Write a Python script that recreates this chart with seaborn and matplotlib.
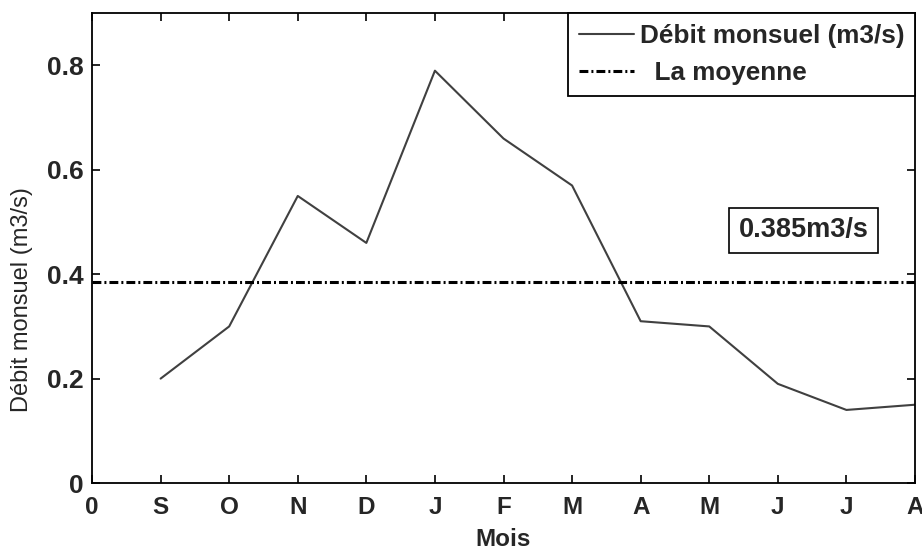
import matplotlib
matplotlib.use("Agg")
import matplotlib.pyplot as plt
import seaborn as sns
import pandas as pd

# Monthly discharge, hydrological year September -> August
mois = ["S", "O", "N", "D", "J", "F", "M", "A", "M", "J", "J", "A"]
debit = [0.20, 0.30, 0.55, 0.46, 0.79, 0.66, 0.57, 0.31, 0.30, 0.19, 0.14, 0.15]
moyenne = 0.385
tick_labels = ["0"] + mois
y_ticks = [0, 0.2, 0.4, 0.6, 0.8]

sns.set_style("ticks")
plt.rcParams["font.family"] = ["Liberation Sans", "DejaVu Sans"]

df = pd.DataFrame({"rang": range(1, len(debit) + 1), "debit": debit})

fig = plt.figure(figsize=(9.22, 5.51), dpi=100)
ax = fig.add_axes([0.0998, 0.1234, 0.8926, 0.8525])

sns.lineplot(data=df, x="rang", y="debit", ax=ax, color="#404040",
             linewidth=1.5, label="Débit monsuel (m3/s)")
ax.axhline(moyenne, color="black", linewidth=2.2,
           linestyle=(0, (2.9, 1.0, 0.65, 1.0)), label="  La moyenne")

ax.set_xlim(0, 12)
ax.set_ylim(0, 0.9)
ax.set_xticks(range(len(tick_labels)))
ax.set_xticklabels(tick_labels, fontsize=17.5, fontweight="bold")
ax.set_yticks(y_ticks)
ax.set_yticklabels([f"{v:g}" for v in y_ticks], fontsize=19, fontweight="bold")
ax.tick_params(direction="in", length=6, width=1.2, top=True, right=True,
               color="black", pad=6)
ax.tick_params(axis="x", pad=9)
for s in ax.spines.values():
    s.set_linewidth(1.3)
    s.set_color("black")

ax.set_xlabel("Mois", fontsize=17.5, fontweight="bold")
ax.xaxis.set_label_coords(0.5, -0.095)
ax.set_ylabel("Débit monsuel (m3/s)", fontsize=17)
ax.yaxis.set_label_coords(-0.072, 0.39)

ax.text(10.38, 0.484, f"{moyenne}m3/s", fontsize=19.5, fontweight="bold",
        ha="center", va="center",
        bbox=dict(boxstyle="square,pad=0.35", facecolor="white",
                  edgecolor="black", linewidth=1.2))

leg = ax.legend(loc="upper right", borderaxespad=0, fancybox=False,
                framealpha=1, edgecolor="black",
                prop={"size": 18.8, "weight": "bold"},
                handlelength=2.1, handletextpad=0.22, labelspacing=0.5,
                borderpad=0.42)
leg.get_frame().set_linewidth(1.3)

fig.savefig("out.png", dpi=100)
